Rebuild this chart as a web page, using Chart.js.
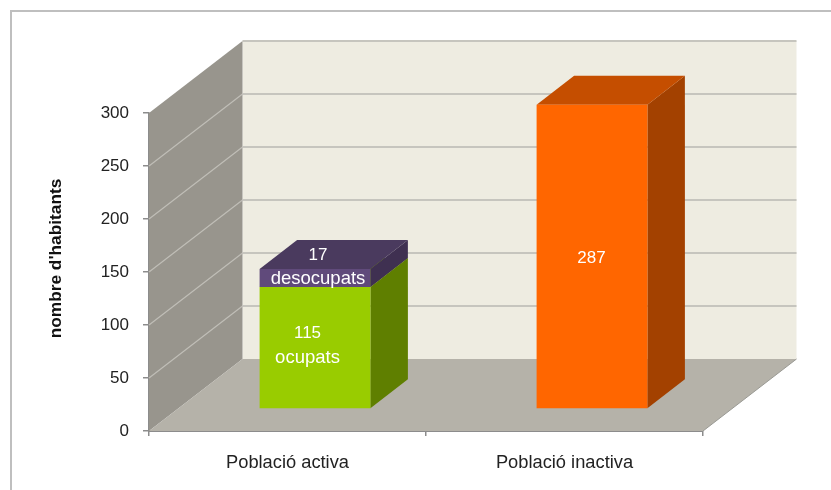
<!DOCTYPE html>
<html>
<head>
<meta charset="utf-8">
<style>html,body{margin:0;padding:0;background:#fff}canvas{display:block}</style>
<script src="https://cdn.jsdelivr.net/npm/chart.js@4"></script>
</head>
<body>
<canvas id="c" width="831" height="490"></canvas>
<script>
const categories = ["Població activa", "Població inactiva"];
const ocupats = [115, null];
const desocupats = [17, null];
const inactiva = [null, 287];
const yTicks = [0, 50, 100, 150, 200, 250, 300];
const yTitle = "nombre d'habitants";
const labelLines = {
  ocupats: ["115", "ocupats"],
  desocupats: ["17", "desocupats"],
  inactiva: ["287"]
};
const FONT = '"Liberation Sans", Arial, sans-serif';
const WALL = {dx: 93.5, dy: -72};
const BAR_PLANE = {dx: 27.5, dy: -22};
const BAR_DEPTH = {dx: 37.5, dy: -29};

function poly(ctx, pts, fill) {
  ctx.beginPath();
  pts.forEach((p, i) => i ? ctx.lineTo(p[0], p[1]) : ctx.moveTo(p[0], p[1]));
  ctx.closePath();
  ctx.fillStyle = fill;
  ctx.fill();
}
const scene = {
  id: 'scene',
  beforeDraw(chart) {
    const ctx = chart.ctx;
    ctx.save();
    ctx.fillStyle = '#fff';
    ctx.fillRect(0, 0, chart.width, chart.height);
    ctx.strokeStyle = '#bfbfbf';
    ctx.lineWidth = 2;
    ctx.beginPath();
    ctx.moveTo(11, 490); ctx.lineTo(11, 11); ctx.lineTo(831, 11);
    ctx.stroke();
    ctx.restore();
  },
  beforeDatasetsDraw(chart) {
    const ctx = chart.ctx, a = chart.chartArea, y = chart.scales.y;
    const d = WALL;
    ctx.save();
    // back wall
    poly(ctx, [[a.left + d.dx, a.top + d.dy], [a.right + d.dx, a.top + d.dy], [a.right + d.dx, a.bottom + d.dy], [a.left + d.dx, a.bottom + d.dy]], '#eeece1');
    // side wall
    poly(ctx, [[a.left, a.top], [a.left + d.dx, a.top + d.dy], [a.left + d.dx, a.bottom + d.dy], [a.left, a.bottom]], '#98958d');
    // floor
    poly(ctx, [[a.left, a.bottom], [a.right, a.bottom], [a.right + d.dx, a.bottom + d.dy], [a.left + d.dx, a.bottom + d.dy]], '#b5b2a9');
    ctx.strokeStyle = '#9a9a94';
    ctx.lineWidth = 1;
    ctx.beginPath();
    ctx.moveTo(a.right, a.bottom); ctx.lineTo(a.right + d.dx, a.bottom + d.dy);
    ctx.stroke();
    // grid lines
    yTicks.forEach(v => {
      const py = y.getPixelForValue(v);
      ctx.lineWidth = 2;
      ctx.strokeStyle = '#c6c5be';
      if (v > 0) {
        ctx.beginPath();
        ctx.moveTo(a.left + d.dx, py + d.dy); ctx.lineTo(a.right + d.dx, py + d.dy);
        ctx.stroke();
      }
      if (v > 0 && v < 300) {
        ctx.lineWidth = 1.2;
        ctx.strokeStyle = '#c0beb7';
        ctx.beginPath();
        ctx.moveTo(a.left, py); ctx.lineTo(a.left + d.dx, py + d.dy);
        ctx.stroke();
      }
    });
    // y-axis title
    ctx.save();
    ctx.translate(56.5, 258.5);
    ctx.rotate(-Math.PI / 2);
    ctx.font = 'bold 17.3px ' + FONT;
    ctx.fillStyle = '#111';
    ctx.textAlign = 'center';
    ctx.textBaseline = 'middle';
    ctx.fillText(yTitle, 0, 0);
    ctx.restore();
    // 3D faces of the bars, taken from the library's bar elements
    const q = BAR_DEPTH, o = BAR_PLANE;
    chart.data.datasets.forEach((ds, i) => {
      chart.getDatasetMeta(i).data.forEach((el, j) => {
        if (ds.data[j] == null) return;
        const r = el.getProps(['x', 'y', 'base', 'width'], true);
        const L = r.x - r.width / 2 + o.dx, R = r.x + r.width / 2 + o.dx;
        const T = r.y + o.dy, B = r.base + o.dy;
        poly(ctx, [[R, T], [R + q.dx, T + q.dy], [R + q.dx, B + q.dy], [R, B]], ds.sideColor);
        poly(ctx, [[L, T], [L + q.dx, T + q.dy], [R + q.dx, T + q.dy], [R, T]], ds.topColor);
      });
    });
    ctx.restore();
    ctx.save();
    ctx.translate(o.dx, o.dy);
  },
  afterDatasetsDraw(chart) {
    const ctx = chart.ctx;
    ctx.restore();
    const o = BAR_PLANE;
    ctx.save();
    ctx.fillStyle = '#fff';
    ctx.textAlign = 'center';
    ctx.textBaseline = 'middle';
    chart.data.datasets.forEach((ds, i) => {
      chart.getDatasetMeta(i).data.forEach((el, j) => {
        if (ds.data[j] == null) return;
        const r = el.getProps(['x', 'y', 'base'], true);
        const cx = r.x + o.dx + ds.labelShift[0];
        const cy = (r.y + r.base) / 2 + o.dy + ds.labelShift[1];
        ds.labelLines.forEach((t, k) => {
          ctx.font = (/^\d+$/.test(t) ? '17px ' : '18.5px ') + FONT;
          ctx.fillText(t, cx, cy + (k - (ds.labelLines.length - 1) / 2) * 24);
        });
      });
    });
    ctx.restore();
  }
};

new Chart(document.getElementById('c'), {
  type: 'bar',
  data: {
    labels: categories,
    datasets: [
      {label: 'ocupats', data: ocupats, backgroundColor: '#99cc00', sideColor: '#5f7f00', topColor: '#7da600', labelLines: labelLines.ocupats, labelShift: [-7.5, -2]},
      {label: 'desocupats', data: desocupats, backgroundColor: '#604a7b', sideColor: '#3f3051', topColor: '#4a3a5e', labelLines: labelLines.desocupats, labelShift: [3, -11]},
      {label: 'inactiva', data: inactiva, backgroundColor: '#ff6600', sideColor: '#a34100', topColor: '#c54e00', labelLines: labelLines.inactiva, labelShift: [-0.5, 2]}
    ]
  },
  options: {
    responsive: false,
    animation: false,
    categoryPercentage: 1,
    barPercentage: 0.4,
    layout: {padding: {left: 0, right: 128, top: 113, bottom: 0}},
    plugins: {legend: {display: false}, title: {display: false}, tooltip: {enabled: false}},
    datasets: {bar: {clip: false, borderWidth: 0}},
    scales: {
      x: {
        stacked: true,
        z: 1,
        afterFit(s) { s.height = 59; },
        grid: {drawOnChartArea: false, drawTicks: true, tickLength: 5, color: '#8c8c8c', lineWidth: 1.5},
        border: {display: true, color: '#8c8c8c', width: 2},
        ticks: {color: '#222', font: {family: FONT, size: 18.3}, padding: 16, maxRotation: 0}
      },
      y: {
        stacked: true,
        min: 0,
        max: 300,
        z: 1,
        afterFit(s) { s.width = 149; },
        afterBuildTicks(s) { s.ticks = yTicks.map(v => ({value: v})); },
        grid: {drawOnChartArea: false, drawTicks: true, tickLength: 6, color: '#8c8c8c', lineWidth: 1.5},
        border: {display: true, color: '#8c8c8c', width: 1.5},
        ticks: {color: '#222', font: {family: FONT, size: 17}, padding: 14}
      }
    }
  },
  plugins: [scene]
});
</script>
</body>
</html>
